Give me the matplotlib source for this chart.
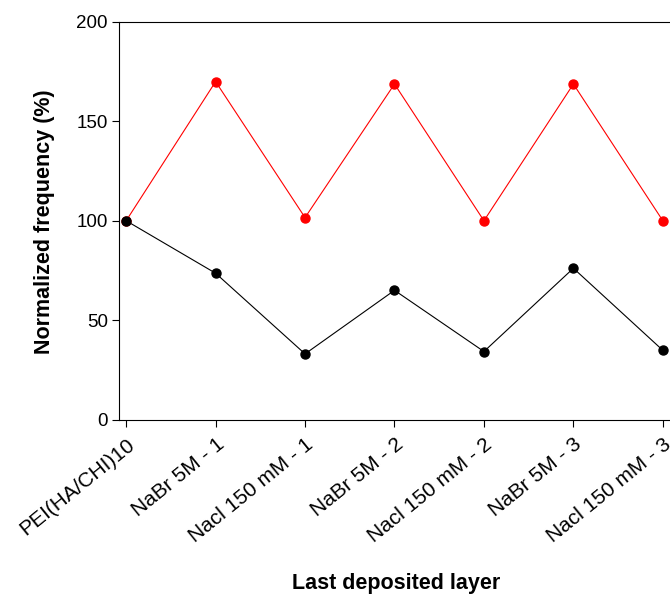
import matplotlib
matplotlib.use("Agg")
import matplotlib.pyplot as plt

plt.rcParams['font.family'] = ['Liberation Sans', 'DejaVu Sans']

categories = ["PEI(HA/CHI)10", "NaBr 5M - 1", "Nacl 150 mM - 1", "NaBr 5M - 2",
              "Nacl 150 mM - 2", "NaBr 5M - 3", "Nacl 150 mM - 3"]
red_values = [100, 170, 101.6, 168.8, 100, 168.8, 100]
black_values = [100, 73.6, 33.0, 65.0, 34.2, 76.1, 34.8]

W, H = 670, 594
fig = plt.figure(figsize=(W/100, H/100), dpi=100)
left, right, top, bottom = 119, 670, 22, 419.5
ax = fig.add_axes([left/W, 1-bottom/H, (right-left)/W, (bottom-top)/H])

x = list(range(len(categories)))
ax.plot(x, red_values, color='#ff0000', lw=0.8, marker='o', ms=6.5, mec='#ff0000', mfc='#ff0000', clip_on=False, zorder=3)
ax.plot(x, black_values, color='black', lw=0.8, marker='o', ms=6.5, mec='black', mfc='black', clip_on=False, zorder=4)

ax.set_xlim(-0.08, 6.08)
ax.set_ylim(0, 200)
ax.set_yticks([0, 50, 100, 150, 200])
ax.set_xticks(x)
ax.set_xticklabels(categories, rotation=39, ha='right', va='top', rotation_mode='anchor', fontsize=15)
ax.tick_params(axis='both', direction='out', length=5, width=0.8)
ax.tick_params(axis='y', labelsize=13.5, pad=3)
ax.tick_params(axis='x', pad=6)
ax.spines['right'].set_visible(False)
for s in ['left', 'bottom', 'top']:
    ax.spines[s].set_linewidth(0.8)

fig.text(45/W, 1-222/H, "Normalized frequency (%)", fontsize=15.5, fontweight='bold',
         rotation=90, ha='center', va='center')
fig.text(396/W, 1-583/H, "Last deposited layer", fontsize=15.5, fontweight='bold', ha='center', va='center')

fig.savefig("out.png", dpi=100)
